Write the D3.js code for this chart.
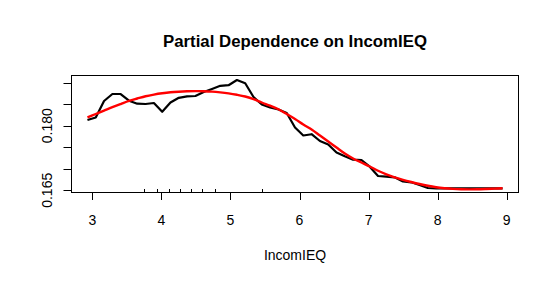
<!DOCTYPE html>
<html><head><meta charset="utf-8">
<script src="https://cdn.jsdelivr.net/npm/d3@7"></script>
<style>body{margin:0;background:#fff}svg{display:block}text{font-family:"Liberation Sans",Arial,sans-serif}</style>
</head><body><svg id="c" width="554" height="282"></svg>
<script>
const title = "Partial Dependence on IncomIEQ";
const xLabel = "IncomIEQ";
const xGrid = [2.930,3.050,3.170,3.291,3.411,3.531,3.651,3.771,3.892,4.012,4.132,4.252,4.372,4.493,4.613,4.733,4.853,4.973,5.094,5.214,5.334,5.454,5.574,5.695,5.815,5.935,6.055,6.175,6.296,6.416,6.536,6.656,6.776,6.897,7.017,7.137,7.257,7.377,7.498,7.618,7.738,7.858,7.978,8.099,8.219,8.339,8.459,8.579,8.700,8.820,8.940];
const partial = [0.18133,0.18191,0.18575,0.18737,0.18737,0.18582,0.18512,0.18505,0.18528,0.18324,0.18540,0.18649,0.18684,0.18691,0.18784,0.18854,0.18928,0.18942,0.19063,0.18986,0.18668,0.18493,0.18424,0.18377,0.18296,0.17959,0.17773,0.17803,0.17645,0.17564,0.17378,0.17290,0.17213,0.17204,0.17048,0.16832,0.16816,0.16802,0.16704,0.16686,0.16623,0.16553,0.16546,0.16546,0.16546,0.16546,0.16546,0.16546,0.16546,0.16546,0.16546];
const smooth = [0.18196,0.18273,0.18352,0.18431,0.18505,0.18577,0.18633,0.18686,0.18724,0.18754,0.18777,0.18791,0.18800,0.18805,0.18803,0.18793,0.18775,0.18751,0.18719,0.18679,0.18621,0.18540,0.18466,0.18382,0.18273,0.18157,0.18029,0.17913,0.17773,0.17634,0.17494,0.17355,0.17239,0.17146,0.17053,0.16955,0.16872,0.16802,0.16744,0.16693,0.16646,0.16605,0.16572,0.16549,0.16533,0.16523,0.16521,0.16523,0.16530,0.16539,0.16549];
const rugValues = [3.753,3.941,4.111,4.265,4.433,4.592,4.781,5.457];
const xTicks = [3,4,5,6,7,8,9];
const xTickLabels = ["3","4","5","6","7","8","9"];
const yTicks = [0.165,0.170,0.175,0.180,0.185,0.190];
const yLabelTicks = [0.165,0.180];
const yTickLabels = ["0.165","0.180"];

const svg = d3.select("#c");
const box = {l:71.5, r:518.5, t:75.5, b:192.5};
const x = d3.scaleLinear().domain([3,9]).range([92.3,506.7]);
const y = d3.scaleLinear().domain([0.165,0.190]).range([190.3,82.7]);

svg.append("text").attr("x",(box.l+box.r)/2).attr("y",47).attr("text-anchor","middle")
  .attr("font-size","16.8px").attr("font-weight","bold").text(title);

// box
svg.append("rect").attr("x",box.l).attr("y",box.t).attr("width",box.r-box.l).attr("height",box.b-box.t)
  .attr("fill","none").attr("stroke","#000").attr("stroke-width",1);

// x axis
const gx = svg.append("g");
gx.append("line").attr("x1",x(3)).attr("x2",x(9)).attr("y1",box.b).attr("y2",box.b).attr("stroke","#000");
gx.selectAll("line.t").data(xTicks).join("line").attr("class","t")
  .attr("x1",d=>Math.round(x(d))+0.5).attr("x2",d=>Math.round(x(d))+0.5).attr("y1",box.b).attr("y2",box.b+7.5).attr("stroke","#000");
gx.selectAll("text").data(xTicks).join("text").attr("x",d=>x(d)).attr("y",225).attr("text-anchor","middle")
  .attr("font-size","14px").text((d,i)=>xTickLabels[i]);
svg.append("text").attr("x",(box.l+box.r)/2).attr("y",260).attr("text-anchor","middle").attr("font-size","14px").text(xLabel);

// y axis
const gy = svg.append("g");
gy.append("line").attr("x1",box.l).attr("x2",box.l).attr("y1",y(0.165)).attr("y2",y(0.190)).attr("stroke","#000");
gy.selectAll("line.t").data(yTicks).join("line").attr("class","t")
  .attr("x1",box.l-8).attr("x2",box.l).attr("y1",d=>Math.round(y(d))+0.5).attr("y2",d=>Math.round(y(d))+0.5).attr("stroke","#000");
gy.selectAll("text").data(yLabelTicks).join("text")
  .attr("transform",d=>`translate(52,${y(d)}) rotate(-90)`).attr("text-anchor","middle")
  .attr("font-size","14px").text((d,i)=>yTickLabels[i]);

// rug
svg.append("g").selectAll("line").data(rugValues).join("line")
  .attr("x1",d=>Math.round(x(d))+0.5).attr("x2",d=>Math.round(x(d))+0.5).attr("y1",box.b).attr("y2",box.b-3.5)
  .attr("stroke","#000").attr("stroke-width",1);

const line = d3.line().x((d,i)=>x(xGrid[i])).y(d=>y(d));
svg.append("path").datum(partial).attr("d",line).attr("fill","none").attr("stroke","#000").attr("stroke-width",2.2).attr("stroke-linejoin","round");
svg.append("path").datum(smooth).attr("d",d3.line().curve(d3.curveCatmullRom).x((d,i)=>x(xGrid[i])).y(d=>y(d)))
  .attr("fill","none").attr("stroke","#ff0000").attr("stroke-width",2.4);
</script></body></html>
